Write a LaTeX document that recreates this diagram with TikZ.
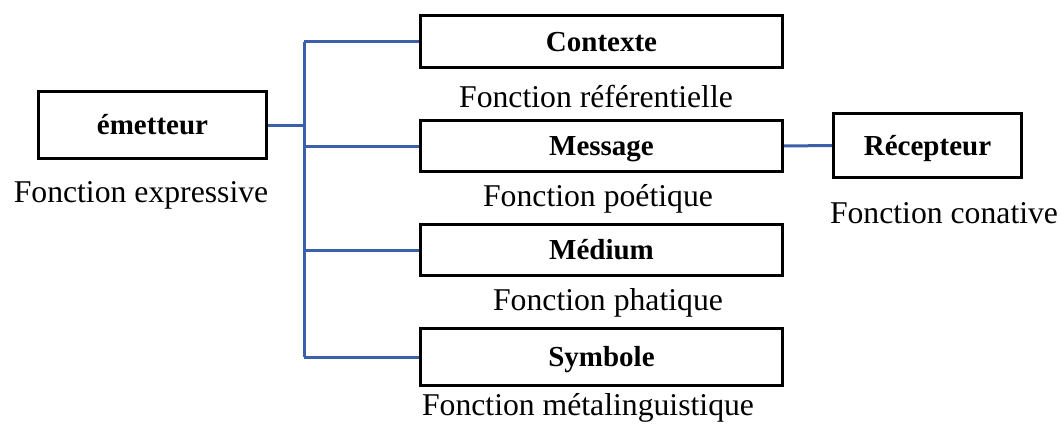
\documentclass[tikz,border=0pt]{standalone}
\usepackage{fontspec}
\setmainfont{Liberation Serif}
\definecolor{linkblue}{RGB}{59,95,169}
\begin{document}
\begin{tikzpicture}[x=1pt,y=-1pt,
  box/.style={draw=black,line width=3pt,inner sep=0pt,anchor=center,
    font=\fontsize{29}{34}\selectfont\bfseries,text height=19pt,text depth=0pt},
  lbl/.style={inner sep=0pt,anchor=base,font=\fontsize{31.7}{38}\selectfont},
  link/.style={draw=linkblue,line width=3pt}]
\clip (0,0) rectangle (1062,423);
\useasboundingbox (0,0) rectangle (1062,423);
% boxes
\node[box,minimum width=228pt,minimum height=67pt] (emet) at (152.5,125) {émetteur};
\node[box,minimum width=362pt,minimum height=52pt] (ctx) at (601.5,41.5) {Contexte};
\node[box,minimum width=362pt,minimum height=51pt] (msg) at (601.5,146) {Message};
\node[box,minimum width=362pt,minimum height=51pt] (med) at (601.5,250) {Médium};
\node[box,minimum width=362pt,minimum height=57pt] (sym) at (601.5,357) {Symbole};
\node[box,minimum width=188pt,minimum height=64pt] (rec) at (927.5,145.5) {Récepteur};
% labels
\node[lbl] (lexp) at (141,202) {Fonction expressive};
\node[lbl] (lref) at (596,107) {Fonction référentielle};
\node[lbl] (lpoe) at (598,206) {Fonction poétique};
\node[lbl] (lcon) at (944,223) {Fonction conative};
\node[lbl] (lpha) at (608,310) {Fonction phatique};
\node[lbl] (lmet) at (588,415) {Fonction métalinguistique};
% connectors
\coordinate (trunk) at (304,0);
\draw[link] (emet.east) -- (emet.east -| trunk);
\draw[link] (trunk |- ctx.west) -- (trunk |- sym.west);
\draw[link] (trunk |- ctx.west) -- (ctx.west);
\draw[link] (trunk |- msg.west) -- (msg.west);
\draw[link] (trunk |- med.west) -- (med.west);
\draw[link] (trunk |- sym.west) -- (sym.west);
\draw[link] (msg.east) -- (rec.west);
\end{tikzpicture}
\end{document}
